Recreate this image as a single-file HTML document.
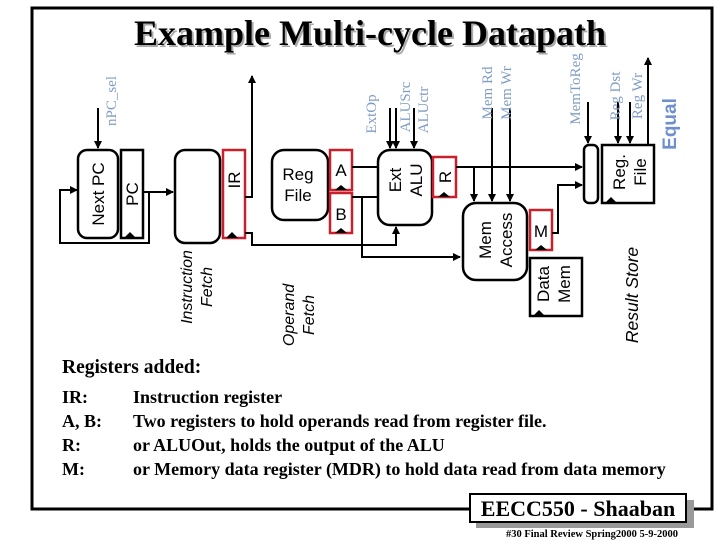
<!DOCTYPE html>
<html><head><style>body{margin:0;background:#fff}svg{display:block}</style></head><body>
<svg width="720" height="540" viewBox="0 0 720 540" xmlns="http://www.w3.org/2000/svg">
<defs>
<marker id="ar" markerWidth="8" markerHeight="8" refX="7" refY="4" orient="auto" markerUnits="userSpaceOnUse"><path d="M0,0 L8,4 L0,8 z" fill="#000"/></marker>
</defs>
<path d="M470,509 L32,509 L32,8 L712,8 L712,509 L688,509" fill="none" stroke="#000" stroke-width="3"/>
<g font-family="Liberation Serif, serif" font-weight="bold" font-size="36" text-anchor="middle">
<text x="372" y="47" fill="#aaa">Example Multi-cycle Datapath</text>
<text x="370" y="45" fill="#000">Example Multi-cycle Datapath</text>
</g>
<g fill="none" stroke="#000" stroke-width="2.5">
<rect x="78" y="150" width="40" height="88" rx="9"/>
<rect x="121" y="150" width="22" height="88"/>
<rect x="175" y="150" width="45" height="93" rx="10"/>
<rect x="272" y="150" width="56" height="70" rx="12"/>
<rect x="378" y="150" width="54" height="75" rx="12"/>
<rect x="463" y="203" width="64" height="77" rx="13"/>
<rect x="530" y="258" width="52" height="58"/>
<rect x="584" y="145" width="14" height="58" rx="5"/>
<rect x="602" y="145" width="52" height="58"/>
</g>
<g fill="none" stroke="#c8202c" stroke-width="2.5">
<rect x="223" y="150" width="22" height="88"/>
<rect x="330" y="150" width="22" height="40"/>
<rect x="330" y="193" width="22" height="40"/>
<rect x="433" y="157" width="23" height="40"/>
<rect x="530" y="210" width="22" height="40"/>
</g>
<g fill="#000">
<path d="M124,238 l6,-6 l6,6z"/><path d="M226,238 l6,-6 l6,6z"/>
<path d="M335,190 l6,-5 l6,5z"/><path d="M335,233 l6,-5 l6,5z"/>
<path d="M438,197 l6,-5 l6,5z"/><path d="M535,250 l6,-5 l6,5z"/>
<path d="M533,316 l6,-6 l6,6z"/><path d="M605,203 l6,-6 l6,6z"/>
</g>
<g fill="none" stroke="#000" stroke-width="2">
<path d="M149,192 L149,243 L60,243 L60,190 L77,190" marker-end="url(#ar)"/>
<path d="M143,192 L173,192" marker-end="url(#ar)"/>
<path d="M98,108 L98,148" marker-end="url(#ar)"/>
<path d="M245,197 L252,197 L252,76" marker-end="url(#ar)"/>
<path d="M245,233 L252,233 L252,245 L396,245 L396,227" marker-end="url(#ar)"/>
<path d="M352,167 L378,167"/>
<path d="M352,197 L378,197"/>
<path d="M362,197 L362,257 L460,257" marker-end="url(#ar)"/>
<path d="M390,108 L390,148" marker-end="url(#ar)"/>
<path d="M396,108 L396,148" marker-end="url(#ar)"/>
<path d="M414,108 L414,148" marker-end="url(#ar)"/>
<path d="M456,167 L582,167" marker-end="url(#ar)"/>
<path d="M474,167 L474,201" marker-end="url(#ar)"/>
<path d="M492,108 L492,201" marker-end="url(#ar)"/>
<path d="M510,108 L510,201" marker-end="url(#ar)"/>
<path d="M552,233 L558,233 L558,185 L582,185" marker-end="url(#ar)"/>
<path d="M588,102 L588,143" marker-end="url(#ar)"/>
<path d="M618,102 L618,143" marker-end="url(#ar)"/>
<path d="M630,102 L630,143" marker-end="url(#ar)"/>
<path d="M648,145 L648,58" marker-end="url(#ar)"/>
</g>
<g font-family="Liberation Sans, sans-serif" font-size="17" fill="#000" text-anchor="middle">
<text transform="translate(104,194) rotate(-90)">Next PC</text>
<text transform="translate(138,194) rotate(-90)">PC</text>
<text transform="translate(240,180) rotate(-90)">IR</text>
<text x="298" y="180">Reg</text><text x="298" y="201">File</text>
<text x="341" y="176">A</text><text x="341" y="220">B</text>
<text transform="translate(401,180) rotate(-90)">Ext</text>
<text transform="translate(422,180) rotate(-90)">ALU</text>
<text transform="translate(451,177) rotate(-90)">R</text>
<text transform="translate(491,240) rotate(-90)">Mem</text>
<text transform="translate(512,240) rotate(-90)">Access</text>
<text x="541" y="237">M</text>
<text transform="translate(549,284) rotate(-90)">Data</text>
<text transform="translate(570,284) rotate(-90)">Mem</text>
<text transform="translate(625,172) rotate(-90)">Reg.</text>
<text transform="translate(646,172) rotate(-90)">File</text>
</g>
<g font-family="Liberation Sans, sans-serif" font-size="16" font-style="italic" fill="#000" text-anchor="middle">
<text transform="translate(192,287) rotate(-90)">Instruction</text>
<text transform="translate(212,287) rotate(-90)">Fetch</text>
<text transform="translate(294,315) rotate(-90)">Operand</text>
<text transform="translate(314,315) rotate(-90)">Fetch</text>
<text transform="translate(638,295) rotate(-90)" font-size="17.5">Result Store</text>
</g>
<g font-family="Liberation Serif, serif" font-size="15" fill="#7f9cc4" text-anchor="middle">
<text transform="translate(116,101) rotate(-90)">nPC_sel</text>
<text transform="translate(376,114) rotate(-90)">ExtOp</text>
<text transform="translate(410,107) rotate(-90)">ALUSrc</text>
<text transform="translate(428,110) rotate(-90)">ALUctr</text>
<text transform="translate(492,93) rotate(-90)">Mem Rd</text>
<text transform="translate(511,93) rotate(-90)">Mem Wr</text>
<text transform="translate(580,89) rotate(-90)">MemToReg</text>
<text transform="translate(620,96) rotate(-90)">Reg Dst</text>
<text transform="translate(642,96) rotate(-90)">Reg Wr</text>
</g>
<text transform="translate(676,124) rotate(-90)" font-family="Liberation Sans, sans-serif" font-size="19" font-weight="bold" fill="#6f8fd0" text-anchor="middle">Equal</text>
<g font-family="Liberation Serif, serif" font-weight="bold" font-size="18" fill="#000">
<text x="62" y="373" font-size="19.5">Registers added:</text>
<text x="62" y="403">IR:</text><text x="133" y="403">Instruction register</text>
<text x="62" y="427">A, B:</text><text x="133" y="427">Two registers to hold operands read from register file.</text>
<text x="62" y="451">R:</text><text x="133" y="451">or ALUOut, holds the output of the ALU</text>
<text x="62" y="475">M:</text><text x="133" y="475">or Memory data register (MDR) to hold data read from data memory</text>
</g>
<rect x="476" y="500" width="218" height="28" fill="#999"/>
<rect x="470" y="494" width="216" height="28" fill="#fff" stroke="#000" stroke-width="2"/>
<text x="578" y="516" font-family="Liberation Serif, serif" font-weight="bold" font-size="22" text-anchor="middle">EECC550 - Shaaban</text>
<text x="592" y="537" font-family="Liberation Serif, serif" font-weight="bold" font-size="10.5" text-anchor="middle">#30   Final Review   Spring2000   5-9-2000</text>
</svg>
</body></html>
